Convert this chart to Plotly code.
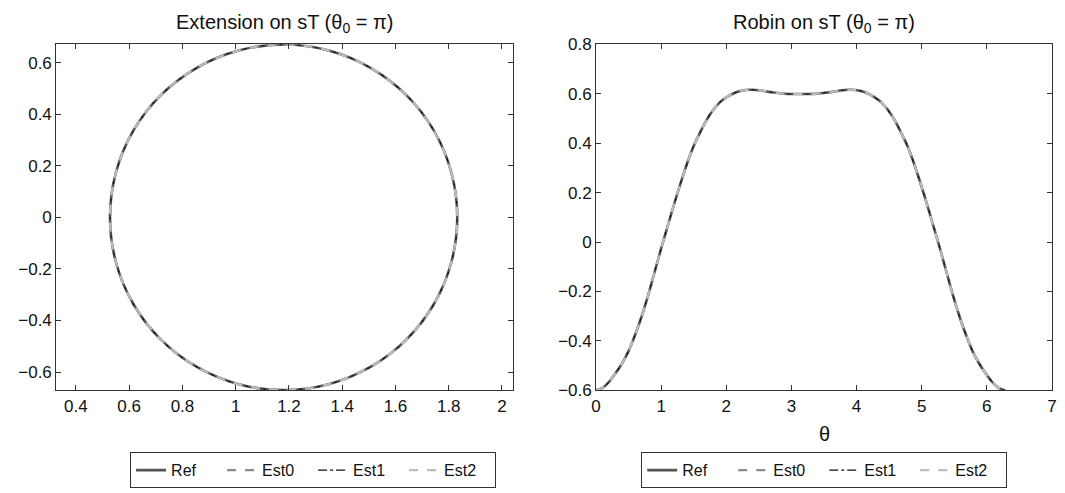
import plotly.graph_objects as go

# ---- data ----
# Left panel: closed curve (Extension on sT)
ext_x = [1.832, 1.810, 1.745, 1.641, 1.506, 1.349, 1.180, 1.011, 0.854, 0.719, 0.615, 0.550,
         0.528, 0.550, 0.615, 0.719, 0.854, 1.011, 1.180, 1.349, 1.506, 1.641, 1.745, 1.810, 1.832]
ext_y = [0.000, 0.173, 0.335, 0.474, 0.580, 0.647, 0.670, 0.647, 0.580, 0.474, 0.335, 0.173,
         0.000, -0.173, -0.335, -0.474, -0.580, -0.647, -0.670, -0.647, -0.580, -0.474, -0.335, -0.173, 0.000]

# Right panel: Robin on sT versus theta
rob_theta = [0.00, 0.10, 0.20, 0.30, 0.40, 0.50, 0.60, 0.70, 0.80, 0.90, 1.00, 1.10, 1.20, 1.30,
             1.40, 1.50, 1.60, 1.70, 1.80, 1.90, 2.00, 2.10, 2.20, 2.30, 2.40, 2.50, 2.60, 2.70,
             2.80, 2.90, 3.00, 3.14, 3.28, 3.38, 3.48, 3.58, 3.68, 3.78, 3.88, 3.98, 4.08, 4.18,
             4.28, 4.38, 4.48, 4.58, 4.68, 4.78, 4.88, 4.98, 5.08, 5.18, 5.28, 5.38, 5.48, 5.58,
             5.68, 5.78, 5.88, 5.98, 6.08, 6.18, 6.28]
rob_val = [-0.600, -0.590, -0.565, -0.530, -0.490, -0.440, -0.375, -0.300, -0.215, -0.120, -0.025,
           0.065, 0.155, 0.240, 0.320, 0.390, 0.445, 0.495, 0.535, 0.565, 0.585, 0.600, 0.610,
           0.615, 0.616, 0.614, 0.610, 0.606, 0.603, 0.600, 0.599, 0.599, 0.599, 0.600, 0.603,
           0.606, 0.610, 0.614, 0.616, 0.615, 0.610, 0.600, 0.585, 0.565, 0.535, 0.495, 0.445,
           0.390, 0.320, 0.240, 0.155, 0.065, -0.025, -0.120, -0.215, -0.300, -0.375, -0.440,
           -0.490, -0.530, -0.565, -0.590, -0.600]

series_names = ["Ref", "Est0", "Est1", "Est2"]
left_xticks = [0.4, 0.6, 0.8, 1.0, 1.2, 1.4, 1.6, 1.8, 2.0]
left_xlabels = ["0.4", "0.6", "0.8", "1", "1.2", "1.4", "1.6", "1.8", "2"]
left_yticks = [-0.6, -0.4, -0.2, 0.0, 0.2, 0.4, 0.6]
left_ylabels = ["\u22120.6", "\u22120.4", "\u22120.2", "0", "0.2", "0.4", "0.6"]
right_xticks = [0, 1, 2, 3, 4, 5, 6, 7]
right_xlabels = ["0", "1", "2", "3", "4", "5", "6", "7"]
right_yticks = [-0.6, -0.4, -0.2, 0.0, 0.2, 0.4, 0.6, 0.8]
right_ylabels = ["\u22120.6", "\u22120.4", "\u22120.2", "0", "0.2", "0.4", "0.6", "0.8"]

styles = {
    "Ref": dict(color="#555555", width=2.6, dash="solid"),
    "Est0": dict(color="#8c8c8c", width=2.2, dash="dash"),
    "Est1": dict(color="#111111", width=1.2, dash="dashdot"),
    "Est2": dict(color="#bdbdbd", width=2.2, dash="dash"),
}

W, H = 1065, 493
FONT = "Liberation Sans, Arial, Helvetica, sans-serif"

fig = go.Figure()
for name in series_names:
    fig.add_trace(go.Scatter(x=ext_x, y=ext_y, mode="lines", name=name,
                             line=dict(shape="spline", smoothing=1.0, **styles[name]),
                             xaxis="x", yaxis="y", legend="legend"))
for name in series_names:
    fig.add_trace(go.Scatter(x=rob_theta, y=rob_val, mode="lines", name=name,
                             line=dict(shape="spline", smoothing=0.8, **styles[name]),
                             xaxis="x2", yaxis="y2", legend="legend2"))

axis_common = dict(showgrid=False, zeroline=False, showline=True, linecolor="#333333",
                   linewidth=1, mirror="ticks", ticks="inside", ticklen=5, tickcolor="#333333",
                   tickfont=dict(family=FONT, size=17, color="#111111"))

def px_x(p):
    return p / W

def px_y(p):
    return 1 - p / H

legend_common = dict(orientation="h", yanchor="top", xanchor="center",
                     bordercolor="#333333", borderwidth=1, bgcolor="white",
                     font=dict(family=FONT, size=16, color="#111111"),
                     entrywidth=46, entrywidthmode="pixels", tracegroupgap=0)

fig.update_layout(
    width=W, height=H,
    margin=dict(l=0, r=0, t=0, b=0),
    paper_bgcolor="white", plot_bgcolor="white",
    font=dict(family=FONT, size=15, color="#111111"),
    xaxis=dict(domain=[px_x(51.7), px_x(513)], range=[0.326, 2.042],
               tickvals=left_xticks, ticktext=left_xlabels, anchor="y", **axis_common),
    yaxis=dict(domain=[px_y(396.7), px_y(36.7)], range=[-0.671, 0.671],
               tickvals=left_yticks, ticktext=left_ylabels, anchor="x", **axis_common),
    xaxis2=dict(domain=[px_x(596.7), px_x(1057)], range=[0, 7.003],
                tickvals=right_xticks, ticktext=right_xlabels, anchor="y2", **axis_common),
    yaxis2=dict(domain=[px_y(396.7), px_y(36.7)], range=[-0.6, 0.8],
                tickvals=right_yticks, ticktext=right_ylabels, anchor="x2", **axis_common),
    legend=dict(x=px_x(311), y=px_y(461), **legend_common),
    legend2=dict(x=px_x(827), y=px_y(461), **legend_common),
    annotations=[
        dict(text="Extension on sT (\u03b8<sub>0</sub> = \u03c0)", x=px_x(282), y=px_y(15),
             xref="paper", yref="paper", showarrow=False, xanchor="center", yanchor="middle",
             font=dict(family=FONT, size=20, color="#111111")),
        dict(text="Robin on sT (\u03b8<sub>0</sub> = \u03c0)", x=px_x(827), y=px_y(15),
             xref="paper", yref="paper", showarrow=False, xanchor="center", yanchor="middle",
             font=dict(family=FONT, size=20, color="#111111")),
        dict(text="\u03b8", x=px_x(827), y=px_y(442), xref="paper", yref="paper",
             showarrow=False, xanchor="center", yanchor="middle",
             font=dict(family=FONT, size=20, color="#111111")),
    ],
)

fig.write_html("out.html",
               config={"displayModeBar": False, "staticPlot": True},
               post_script="document.body.style.margin='0';document.body.style.overflow='hidden';")
